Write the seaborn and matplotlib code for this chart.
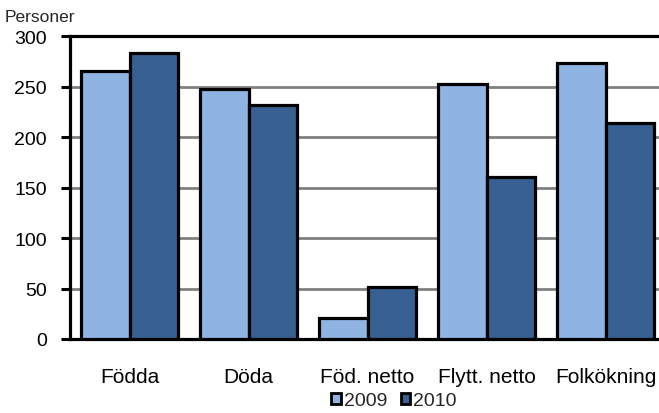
import matplotlib
matplotlib.use("Agg")
import matplotlib.pyplot as plt
import seaborn as sns
import pandas as pd
from matplotlib.patches import Patch

categories = ["Födda", "Döda", "Föd. netto", "Flytt. netto", "Folkökning"]
years = ["2009", "2010"]
values_2009 = [266, 248, 21, 253, 274]
values_2010 = [283, 232, 52, 161, 214]
y_ticks = [0, 50, 100, 150, 200, 250, 300]
y_label = "Personer"

colors = {"2009": "#8FB3E2", "2010": "#385F91"}

df = pd.DataFrame({
    "kategori": categories * 2,
    "år": [years[0]] * len(categories) + [years[1]] * len(categories),
    "värde": values_2009 + values_2010,
})

sns.set_style("white")
plt.rcParams["font.family"] = ["Liberation Sans", "DejaVu Sans"]

W, H = 659, 414
FS = 14
fig = plt.figure(figsize=(W / 100, H / 100), dpi=100)
ax = fig.add_axes([70 / W, (H - 340) / H, 595 / W, (340 - 37.3) / H])

sns.barplot(data=df, x="kategori", y="värde", hue="år", order=categories,
            hue_order=years, palette=colors, width=0.815, gap=0,
            edgecolor="black", linewidth=2.3, saturation=1, ax=ax,
            legend=False, zorder=3)

ax.set_ylim(0, 300)
ax.set_xlim(-0.5, len(categories) - 0.5)
ax.set_yticks(y_ticks)
ax.set_xlabel("")
ax.set_ylabel("")
ax.yaxis.grid(True, color="#808080", linewidth=2.0, zorder=0)
ax.set_axisbelow(True)
ax.tick_params(axis="y", which="both", left=True, length=6.5, width=2.2,
               color="black", pad=10, labelsize=FS, direction="out")
ax.tick_params(axis="x", bottom=False, pad=17, labelsize=15)
for side in ["left", "bottom", "top"]:
    ax.spines[side].set_visible(True)
    ax.spines[side].set_color("black")
    ax.spines[side].set_linewidth(2.3)
ax.spines["right"].set_visible(False)
for lab in ax.get_xticklabels() + ax.get_yticklabels():
    lab.set_color("black")

fig.text(5 / W, 1 - 18 / H, y_label, fontsize=12.5, ha="left", va="center")

handles = [Patch(facecolor=colors[y], edgecolor="black", linewidth=2.0, label=y) for y in years]
fig.legend(handles=handles, loc="center", bbox_to_anchor=(394 / W, 1 - 402 / H),
           ncol=2, frameon=False, fontsize=FS, handlelength=0.5, handleheight=0.5,
           handletextpad=0.15, columnspacing=0.7, borderpad=0)

fig.savefig("out.png", dpi=100)
